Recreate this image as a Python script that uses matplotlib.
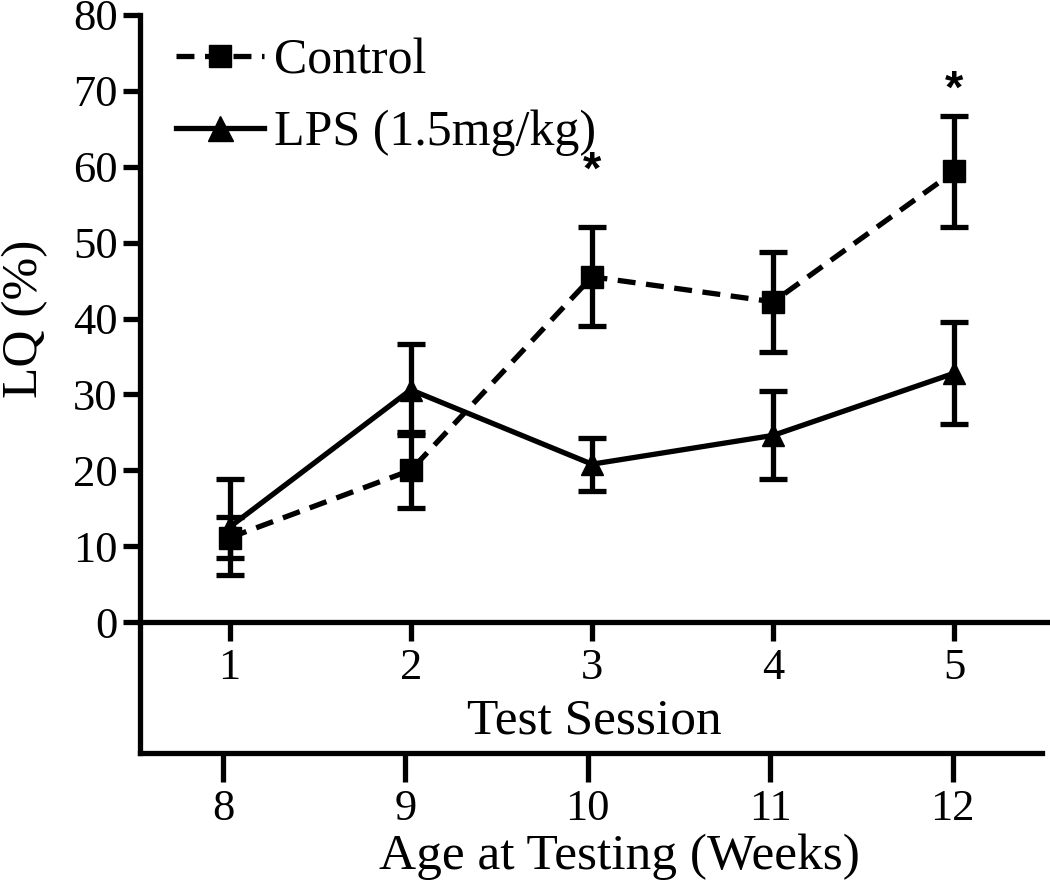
import numpy as np
import matplotlib
matplotlib.use("Agg")
import matplotlib.pyplot as plt
from matplotlib.lines import Line2D

plt.rcParams['font.family'] = ['Liberation Serif', 'DejaVu Serif']

sessions = [1, 2, 3, 4, 5]
ages = [8, 9, 10, 11, 12]
control_mean = [11.1, 20.0, 45.5, 42.2, 59.4]
control_sem = [2.7, 5.0, 6.5, 6.6, 7.3]
lps_mean = [12.5, 30.6, 20.8, 24.6, 32.8]
lps_sem = [6.3, 6.0, 3.5, 5.8, 6.7]
star_sessions = [3, 5]
star_y = [59.3, 70.0]
yticks = [0, 10, 20, 30, 40, 50, 60, 70, 80]

LW = 3.8
DASH = (0, (3.4, 2.0))

fig = plt.figure(figsize=(10.5, 8.81), dpi=100)
ax = fig.add_axes([140/1050, 1 - 622/881, 908/1050, 607/881])
ax2 = fig.add_axes([140/1050, 1 - 753/881, 902/1050, 131/881])

# LPS (solid, triangles)
ax.errorbar(sessions, lps_mean, yerr=lps_sem, color='black', lw=LW, elinewidth=LW,
            capsize=10, capthick=LW, marker='^', markersize=16, zorder=3)
# Control (dashed, squares)
ax.errorbar(sessions, control_mean, yerr=control_sem, color='black', lw=LW, elinewidth=LW,
            capsize=10, capthick=LW, marker='s', markersize=16, linestyle=DASH, zorder=4)

for sx, sy in zip(star_sessions, star_y):
    ax.text(sx, sy, '*', ha='center', va='center', fontsize=34, fontweight='bold',
            family=['Liberation Sans', 'DejaVu Sans'])

ax.set_xlim(0.506, 5.516)
ax.set_ylim(0, 80)
ax.set_yticks(yticks)
ax.set_xticks(sessions)
for s in ['top', 'right']:
    ax.spines[s].set_visible(False)
for s in ['left', 'bottom']:
    ax.spines[s].set_linewidth(LW)
ax.tick_params(axis='y', length=12, width=LW, labelsize=32, pad=4)
ax.tick_params(axis='x', length=14, width=LW, labelsize=32, pad=5)
ax.set_ylabel('LQ (%)', fontsize=37, labelpad=18)
ax.set_xlabel('Test Session', fontsize=37, labelpad=7)

handles = [
    Line2D([], [], color='black', lw=LW, linestyle=DASH, marker='s', markersize=16),
    Line2D([], [], color='black', lw=LW, marker='^', markersize=18),
]
ax.legend(handles, ['Control', 'LPS (1.5mg/kg)'], loc='upper left', bbox_to_anchor=(0.04, 0.962),
          frameon=False, fontsize=36, handlelength=1.75, handletextpad=0.2, labelspacing=0.5,
          borderpad=0, borderaxespad=0)

# secondary age axis
ax2.set_xlim(7.545, 12.49)
ax2.set_xticks(ages)
ax2.set_yticks([])
ax2.patch.set_visible(False)
for s in ['top', 'right']:
    ax2.spines[s].set_visible(False)
for s in ['left', 'bottom']:
    ax2.spines[s].set_linewidth(LW)
ax2.tick_params(axis='x', length=21, width=LW, labelsize=32, pad=5)
ax2.set_xlabel('Age at Testing (Weeks)', fontsize=37, labelpad=3)
ax2.xaxis.label.set_x(0.532)

fig.savefig('out.png', dpi=100)
